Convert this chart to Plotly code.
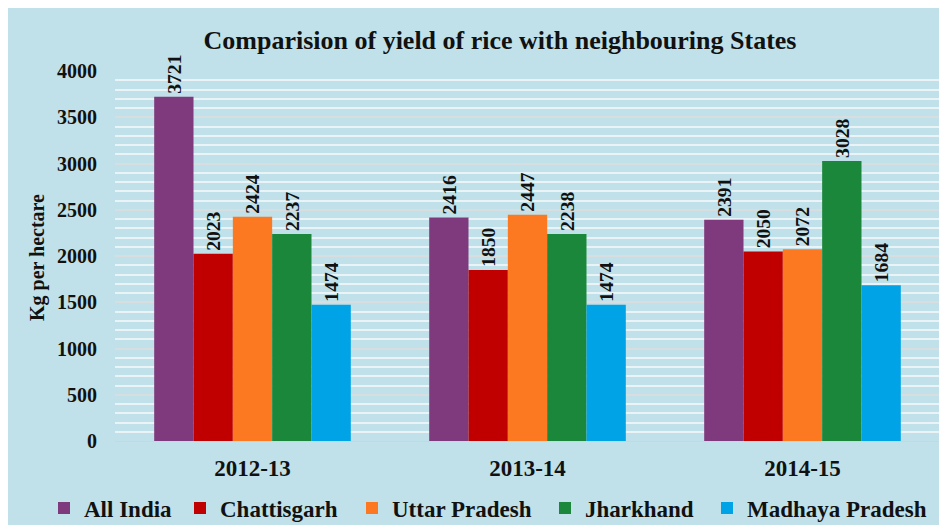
import plotly.graph_objects as go

years = ["2012-13", "2013-14", "2014-15"]
series_names = ["All India", "Chattisgarh", "Uttar Pradesh", "Jharkhand", "Madhaya Pradesh"]
all_india = [3721, 2416, 2391]
chattisgarh = [2023, 1850, 2050]
uttar_pradesh = [2424, 2447, 2072]
jharkhand = [2237, 2238, 3028]
madhya_pradesh = [1474, 1474, 1684]
y_ticks = [0, 500, 1000, 1500, 2000, 2500, 3000, 3500, 4000]
y_title = "Kg per hectare"

values = [all_india, chattisgarh, uttar_pradesh, jharkhand, madhya_pradesh]
colors = ["#7F3A7D", "#C00000", "#FD7921", "#1B873A", "#00A4E6"]

FONT = "Liberation Serif"
BG = "#C0E1E9"

# page has an 8px body margin; reference pixel = figure pixel + 8
OFF = 8
W, H = 947, 525
L, R, T, B = 115 - OFF, 15, 71 - OFF, 92
pw, ph = W - L - R, H - T - B

def px_x(px):
    return (px - OFF - L) / pw

def px_y(py):
    return (H - B - (py - OFF)) / ph

legend_ids = ["legend", "legend2", "legend3", "legend4", "legend5"]
legend_marker_px = [69, 205, 377, 570, 732]

fig = go.Figure()
for name, vals, col, lid in zip(series_names, values, colors, legend_ids):
    fig.add_trace(go.Bar(
        name=f"<b>{name}</b>", x=years, y=vals, marker_color=col, marker_line_width=0,
        text=[f"<b>{v}</b>" for v in vals], textposition="outside", textangle=-90,
        textfont=dict(family=FONT, size=20, color="#111"), cliponaxis=False,
        legend=lid,
    ))

legends = {}
for lid, mx in zip(legend_ids, legend_marker_px):
    legends[lid] = dict(orientation="h", xref="container", x=(mx - OFF - 25) / W, xanchor="left",
                        y=px_y(508), yanchor="middle",
                        font=dict(family=FONT, size=23, color="#111"), bgcolor="rgba(0,0,0,0)",
                        itemwidth=30)

fig.update_layout(
    width=W, height=H,
    margin=dict(l=L, r=R, t=T, b=B, autoexpand=False),
    paper_bgcolor=BG, plot_bgcolor=BG,
    barmode="group", bargap=0.285, bargroupgap=0,
    font=dict(family=FONT, color="#111", size=17),
    title=dict(text="<b>Comparision of yield of rice with neighbouring States</b>",
               x=(500 - OFF) / W, xanchor="center", y=1 - (40 - OFF) / H, yanchor="middle",
               font=dict(family=FONT, size=26, color="#111")),
    xaxis=dict(showgrid=False, ticks="outside", ticklen=6, tickcolor="rgba(0,0,0,0)",
               tickfont=dict(family=FONT, size=23, color="#111"),
               showline=True, linecolor="#D3D3D3", linewidth=1,
               tickprefix="<b>", ticksuffix="</b>"),
    yaxis=dict(range=[0, 4000], tickvals=y_ticks, ticktext=[f"<b>{v}</b>" for v in y_ticks],
               tickfont=dict(family=FONT, size=20, color="#111"),
               gridcolor="#D8DEE0", gridwidth=1.5, zeroline=False,
               ticks="outside", ticklen=13, tickcolor="rgba(0,0,0,0)",
               minor=dict(dtick=100, showgrid=True, gridcolor="#EAF3F6", gridwidth=1.5)),
    annotations=[dict(text=f"<b>{y_title}</b>", xref="paper", yref="paper",
                      x=px_x(38), y=px_y(258), xanchor="center", yanchor="middle",
                      textangle=-90, showarrow=False,
                      font=dict(family=FONT, size=20, color="#111"))],
    showlegend=True,
    **legends,
)

fig.write_html("out.html")
